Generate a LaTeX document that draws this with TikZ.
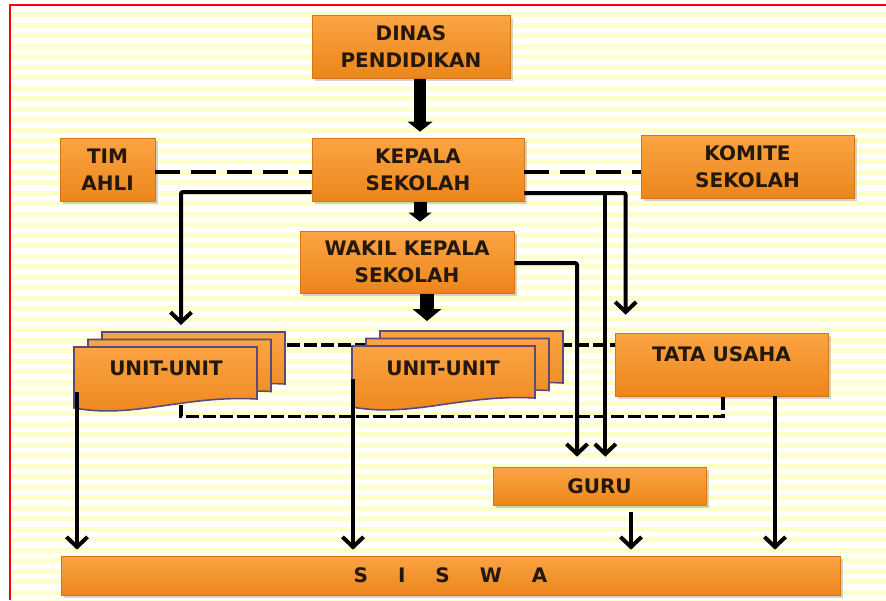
\documentclass[tikz,border=0pt]{standalone}
\usepackage{fontspec}
\setmainfont{DejaVu Sans}
\usetikzlibrary{arrows.meta,shadows,calc}
\definecolor{orgtop}{HTML}{FBA443}
\definecolor{orgbot}{HTML}{EC861B}
\definecolor{orgedge}{HTML}{D27618}
\definecolor{docedge}{HTML}{5E4A78}
\definecolor{txt}{HTML}{24170B}
\definecolor{stripe}{HTML}{FFFFCC}
\begin{document}
\begin{tikzpicture}[x=1pt,y=-1pt,
  lbl/.style={font=\bfseries\fontsize{20}{27}\selectfont, text=txt, align=center},
  obox/.style={lbl, rectangle, draw=orgedge, line width=0.6pt, top color=orgtop, bottom color=orgbot, inner sep=0pt,
    drop shadow={shadow xshift=2.5pt, shadow yshift=-2.5pt, opacity=0.35}},
  ln/.style={line width=4pt},
  barb/.style={-{Straight Barb[width=21pt,length=10pt]}},
  dshA/.style={line width=3.8pt, dash pattern=on 25pt off 11pt},
  dshB/.style={line width=3.3pt, dash pattern=on 13pt off 4pt},
  docshape/.style={draw=docedge, line width=1.6pt, top color=orgtop, bottom color=orgbot}
]
% background
\useasboundingbox (0,0) rectangle (886,600);
\fill[white] (0,0) rectangle (886,600);
\foreach \i in {0,...,56} \fill[stripe] (11,{12+10.5*\i}) rectangle (886,{17+10.5*\i});
\draw[red, line width=2pt] (10,600) -- (10,5) -- (886,5);

% boxes
\node[obox, minimum width=198pt, minimum height=63pt] (dinas) at (411,46.5) {DINAS\\PENDIDIKAN};
\node[obox, minimum width=212pt, minimum height=63pt] (kepala) at (418,169.5) {KEPALA\\SEKOLAH};
\node[obox, minimum width=95pt, minimum height=63pt] (tim) at (107.5,169.5) {TIM\\AHLI};
\node[obox, minimum width=213pt, minimum height=63pt] (komite) at (747.5,166.5) {KOMITE\\SEKOLAH};
\node[obox, minimum width=214pt, minimum height=62pt] (wakil) at (407,262) {WAKIL KEPALA\\SEKOLAH};
\node[obox, minimum width=213pt, minimum height=63pt, text height=14pt, text depth=20pt] (tata) at (721.5,364.5) {TATA USAHA};
\node[obox, minimum width=213pt, minimum height=38pt] (guru) at (599.5,486) {GURU};
\node[obox, minimum width=779pt, minimum height=39pt] (siswa) at (450.5,575.5) {S\hspace{30pt}I\hspace{30pt}S\hspace{30pt}W\hspace{30pt}A};

\coordinate (uL) at (74,347);
\coordinate (uR) at (352,346);

% dashed links
\draw[dshA] ($(tim.east)+(0,2.5)$) -- ($(kepala.west)+(0,2.5)$);
\draw[dshA] ($(kepala.east)+(0,2.5)$) -- ($(komite.west)+(0,5.5)$);
\draw[dshB] ($(uL)+(213,-2)$) -- ($(tata.west)+(0,-19.5)$);
\draw[dshB] ($(uL)+(107,58)$) |- ($(tata.south)+(1.5,20.5)$) -- ($(tata.south)+(1.5,0)$);

% unit stacks
\foreach \s in {uL,uR}{
  \foreach \dx/\dy in {28/-15,14/-7.5,0/0}{
    \draw[docshape, shift={($(\s)+(\dx,\dy)$)}] (0,0) -- (183,0) -- (183,52) .. controls (110,48) and (60,72) .. (0,61) -- cycle;
  }
}
\node[lbl] (unitL) at ($(uL)+(92,21)$) {UNIT-UNIT};
\node[lbl] (unitR) at ($(uR)+(91,22)$) {UNIT-UNIT};

% solid connectors
\draw[ln, barb, rounded corners=2pt] ($(kepala.west)+(0,22.5)$) -| ($(uL)+(107,-22)$);
\draw[ln, barb, rounded corners=2pt] ($(kepala.east)+(0,23.5)$) -| ($(tata.north west)+(11,-18)$);
\draw[ln, barb] ($(kepala.east)+(81,23.5)$) coordinate (kg) -- ($(kg |- guru.north)+(0,-10)$);
\draw[ln, barb, rounded corners=2pt] ($(wakil.east)+(0,1)$) -| ($(guru.north)+(-22.5,-10)$);
\draw[ln, barb] ($(uL)+(3,45)$) coordinate (ul1) -- ($(ul1 |- siswa.north)+(0,-6)$);
\draw[ln, barb] ($(uR)+(1,33)$) coordinate (ur1) -- ($(ur1 |- siswa.north)+(0,-6)$);
\draw[ln, barb] ($(guru.south)+(31.5,7)$) coordinate (g1) -- ($(g1 |- siswa.north)+(0,-6)$);
\draw[ln, barb] ($(tata.south)+(53.5,0)$) coordinate (t1) -- ($(t1 |- siswa.north)+(0,-6)$);

% block arrows
\draw[line width=12pt, -{Triangle[width=25pt,length=10pt,line width=0pt]}] ($(dinas.south)+(9,1)$) -- ($(kepala.north)+(2,-6)$);
\draw[line width=13pt, -{Triangle[width=23pt,length=9pt,line width=0pt]}] ($(kepala.south)+(2,1)$) -- ($(wakil.north)+(13,-9)$);
\draw[line width=14pt, -{Triangle[width=29pt,length=12pt,line width=0pt]}] ($(wakil.south)+(20,1)$) -- ($(uR)+(75,-25)$);
\end{tikzpicture}
\end{document}
